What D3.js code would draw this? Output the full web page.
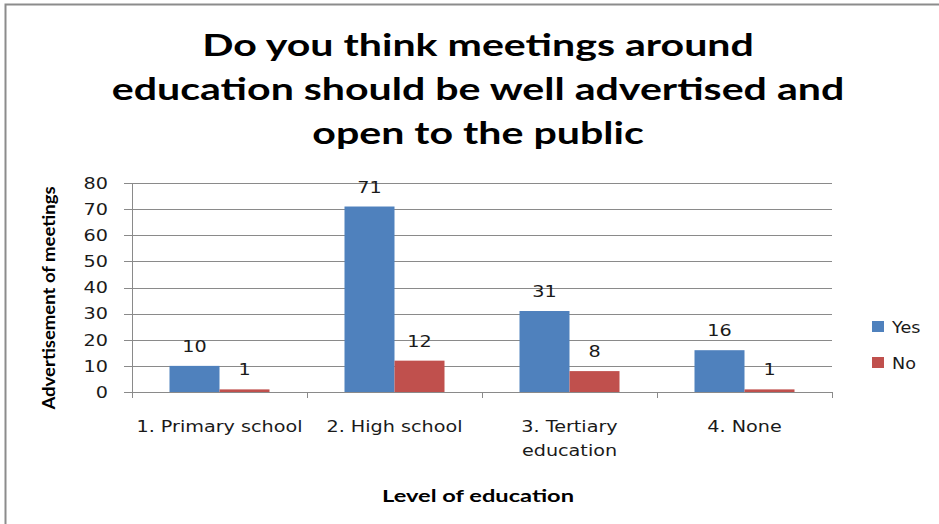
<!DOCTYPE html>
<html><head><meta charset="utf-8">
<script src="https://cdn.jsdelivr.net/npm/d3@7"></script>
<style>body{margin:0;background:#fff}svg{display:block}</style>
</head><body><svg id="c" width="939" height="524"></svg>
<script>
const categories = ["1. Primary school", "2. High school", "3. Tertiary education", "4. None"];
const categoryLines = [["1. Primary school"], ["2. High school"], ["3. Tertiary", "education"], ["4. None"]];
const seriesNames = ["Yes", "No"];
const yesValues = [10, 71, 31, 16];
const noValues = [1, 12, 8, 1];
const yTicks = [0, 10, 20, 30, 40, 50, 60, 70, 80];
const colors = ["#4F81BD", "#C0504D"];
const titleLines = ["Do you think meetings around", "education should be well advertised and", "open to the public"];

const svg = d3.select("#c");
svg.append("rect").attr("x", 5.5).attr("y", 4.5).attr("width", 960).attr("height", 560)
  .attr("fill", "#fff").attr("stroke", "#8c8c8c").attr("stroke-width", 2);

const pL = 132, pR = 832, pT = 183, pB = 392;
const x = d3.scaleBand().domain(categories).range([pL, pR]).paddingInner(0).paddingOuter(0);
const x1 = d3.scaleBand().domain(seriesNames).range([0, x.bandwidth()]).paddingInner(0).paddingOuter(0.75);
const y = d3.scaleLinear().domain([0, 80]).range([pB, pT]);

// text helper with horizontal stretch (reference glyphs are widened)
function txt(parent, tx, ty, s, o) {
  const t = parent.append("text")
    .attr("transform", `translate(${tx},${ty})${o.rot ? " rotate(" + o.rot + ")" : ""} scale(${o.sx || 1},1)`)
    .attr("text-anchor", o.anchor || "middle")
    .attr("font-family", o.family || "DejaVu Sans")
    .attr("font-weight", o.weight || "normal")
    .attr("font-size", o.size || 16)
    .attr("fill", o.fill || "#1a1a1a");
  if (o.dy) t.attr("dy", o.dy);
  t.text(s);
  return t;
}

svg.append("g").selectAll("line").data(yTicks).join("line")
  .attr("x1", pL - 8).attr("x2", pR).attr("y1", d => Math.round(y(d)) + 0.5).attr("y2", d => Math.round(y(d)) + 0.5)
  .attr("stroke", "#8a8a8a").attr("stroke-width", 1);

svg.append("line").attr("x1", pL + 0.5).attr("x2", pL + 0.5).attr("y1", pT).attr("y2", pB + 1)
  .attr("stroke", "#8a8a8a");
const bounds = categories.map(c => x(c)).concat([pR]);
svg.append("g").selectAll("line").data(bounds).join("line")
  .attr("x1", d => Math.round(d) + 0.5).attr("x2", d => Math.round(d) + 0.5).attr("y1", pB).attr("y2", pB + 6)
  .attr("stroke", "#8a8a8a");

const yl = svg.append("g");
yTicks.forEach(d => txt(yl, 108, y(d), d, {anchor: "end", dy: "0.36em", sx: 1.2}));

const data = categories.map((c, i) => ({c, vals: [yesValues[i], noValues[i]]}));
const g = svg.append("g").selectAll("g").data(data).join("g").attr("transform", d => `translate(${x(d.c)},0)`);
g.selectAll("rect").data(d => d.vals.map((v, j) => ({v, s: seriesNames[j], j}))).join("rect")
  .attr("x", d => x1(d.s)).attr("width", x1.bandwidth())
  .attr("y", d => y(d.v)).attr("height", d => pB - y(d.v)).attr("fill", d => colors[d.j]);
g.each(function(d) {
  const gg = d3.select(this);
  d.vals.forEach((v, j) => txt(gg, x1(seriesNames[j]) + x1.bandwidth() / 2, y(v) - 14, v, {sx: 1.2}));
});

const cl = svg.append("g");
categories.forEach((c, i) => {
  categoryLines[i].forEach((ln, k) => txt(cl, x(c) + x.bandwidth() / 2, 432 + k * 24, ln, {sx: 1.2}));
});

const tg = svg.append("g");
titleLines.forEach((ln, i) => txt(tg, 478, 56 + i * 44, ln, {family: "Lato", weight: "bold", size: 30, sx: 1.37, fill: "#000"}));

txt(svg, 478, 502, "Level of education", {family: "Lato", weight: "bold", size: 17, sx: 1.39, fill: "#000"});
txt(svg, 55, 298, "Advertisement of meetings", {family: "Lato", weight: "bold", size: 17, sx: 1.09, rot: -90, fill: "#000"});

const lg = svg.append("g").selectAll("g").data(seriesNames).join("g")
  .attr("transform", (d, i) => `translate(872,${321 + i * 36})`);
lg.append("rect").attr("width", 12).attr("height", 11).attr("fill", (d, i) => colors[i]);
lg.each(function(d) { txt(d3.select(this), 20, 6, d, {anchor: "start", dy: "0.36em", sx: 1.1}); });
</script></body></html>
